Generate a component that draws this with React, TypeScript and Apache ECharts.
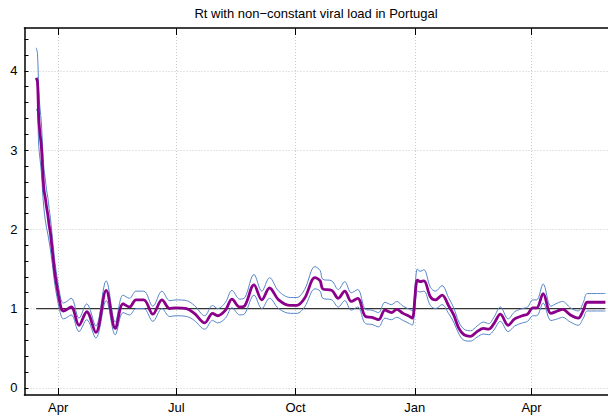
import React, { useEffect, useRef } from "react";
import * as echarts from "echarts";

// Daily-to-weekly samples of the reproduction number estimate
const dates = [
  "2020-03-15", "2020-03-16", "2020-03-17", "2020-03-18", "2020-03-19", "2020-03-20",
  "2020-03-21", "2020-03-22", "2020-03-23", "2020-03-24", "2020-03-25", "2020-03-26",
  "2020-03-27", "2020-03-28", "2020-03-29", "2020-03-30", "2020-03-31", "2020-04-01",
  "2020-04-02", "2020-04-03", "2020-04-04", "2020-04-05", "2020-04-11", "2020-04-17",
  "2020-04-23", "2020-04-30", "2020-05-08", "2020-05-15", "2020-05-21", "2020-05-26",
  "2020-05-31", "2020-06-06", "2020-06-13", "2020-06-20", "2020-06-26", "2020-07-01",
  "2020-07-09", "2020-07-15", "2020-07-23", "2020-07-29", "2020-08-02", "2020-08-08",
  "2020-08-13", "2020-08-19", "2020-08-23", "2020-08-30", "2020-09-05", "2020-09-11",
  "2020-09-18", "2020-09-27", "2020-10-02", "2020-10-08", "2020-10-16", "2020-10-20",
  "2020-10-22", "2020-10-29", "2020-11-03", "2020-11-08", "2020-11-13", "2020-11-18",
  "2020-11-24", "2020-11-29", "2020-12-04", "2020-12-09", "2020-12-14", "2020-12-18",
  "2020-12-23", "2020-12-28", "2020-12-30", "2021-01-02", "2021-01-03", "2021-01-05",
  "2021-01-08", "2021-01-13", "2021-01-17", "2021-01-22", "2021-01-27", "2021-01-31",
  "2021-02-04", "2021-02-08", "2021-02-13", "2021-02-18", "2021-02-23", "2021-02-27",
  "2021-03-03", "2021-03-08", "2021-03-14", "2021-03-19", "2021-03-25", "2021-03-29",
  "2021-04-02", "2021-04-05", "2021-04-10", "2021-04-16", "2021-04-21", "2021-04-25",
  "2021-05-01", "2021-05-07", "2021-05-11", "2021-05-14", "2021-05-21", "2021-05-28",
];

const rt = [
  3.91, 3.86, 3.40, 3.20, 3.05, 2.75,
  2.50, 2.40, 2.28, 2.18, 2.05, 1.95,
  1.80, 1.65, 1.50, 1.38, 1.28, 1.18,
  1.10, 1.02, 0.98, 0.97, 1.02, 0.79,
  0.96, 0.70, 1.23, 0.75, 1.06, 1.02,
  1.11, 1.11, 0.93, 1.11, 1.00, 1.01,
  1.00, 0.94, 0.82, 0.94, 0.91, 0.98,
  1.12, 1.02, 1.04, 1.30, 1.11, 1.26,
  1.11, 1.04, 1.04, 1.13, 1.39, 1.35,
  1.25, 1.23, 1.13, 1.22, 1.09, 1.13,
  0.90, 0.89, 0.86, 0.98, 0.95, 0.99,
  0.94, 0.90, 0.88, 1.30, 1.36, 1.34,
  1.35, 1.15, 1.11, 1.17, 1.04, 0.92,
  0.75, 0.67, 0.65, 0.71, 0.75, 0.74,
  0.81, 0.93, 0.79, 0.87, 0.91, 0.93,
  1.01, 1.01, 1.19, 0.94, 0.97, 0.99,
  0.92, 0.88, 0.98, 1.08, 1.08, 1.08,
];

const rtUpper = [
  4.29, 4.22, 3.75, 3.52, 3.35, 3.02,
  2.76, 2.64, 2.50, 2.40, 2.26, 2.14,
  1.98, 1.82, 1.65, 1.52, 1.41, 1.30,
  1.21, 1.12, 1.08, 1.07, 1.13, 0.88,
  1.06, 0.78, 1.35, 0.83, 1.17, 1.13,
  1.22, 1.22, 1.03, 1.22, 1.10, 1.11,
  1.10, 1.04, 0.91, 1.04, 1.00, 1.08,
  1.23, 1.12, 1.14, 1.43, 1.22, 1.39,
  1.22, 1.14, 1.14, 1.24, 1.53, 1.48,
  1.37, 1.35, 1.24, 1.34, 1.20, 1.24,
  0.99, 0.98, 0.95, 1.08, 1.05, 1.09,
  1.03, 0.99, 0.97, 1.43, 1.50, 1.47,
  1.49, 1.27, 1.22, 1.29, 1.14, 1.01,
  0.83, 0.74, 0.72, 0.78, 0.83, 0.81,
  0.89, 1.02, 0.87, 0.96, 1.00, 1.02,
  1.11, 1.11, 1.31, 1.03, 1.07, 1.09,
  1.01, 0.97, 1.08, 1.19, 1.19, 1.19,
];

const rtLower = [
  3.52, 3.48, 3.05, 2.88, 2.72, 2.46,
  2.26, 2.12, 2.02, 1.94, 1.84, 1.74,
  1.62, 1.49, 1.35, 1.24, 1.15, 1.06,
  0.99, 0.92, 0.88, 0.87, 0.92, 0.71,
  0.86, 0.63, 1.10, 0.67, 0.95, 0.92,
  1.00, 1.00, 0.84, 1.00, 0.90, 0.91,
  0.90, 0.85, 0.74, 0.85, 0.82, 0.88,
  1.01, 0.92, 0.94, 1.17, 1.00, 1.13,
  1.00, 0.94, 0.94, 1.02, 1.25, 1.22,
  1.13, 1.11, 1.02, 1.10, 0.98, 1.02,
  0.81, 0.80, 0.77, 0.88, 0.86, 0.89,
  0.85, 0.81, 0.79, 1.17, 1.22, 1.21,
  1.22, 1.04, 1.00, 1.05, 0.94, 0.83,
  0.68, 0.60, 0.59, 0.64, 0.68, 0.67,
  0.73, 0.84, 0.71, 0.78, 0.82, 0.84,
  0.91, 0.91, 1.07, 0.85, 0.87, 0.89,
  0.83, 0.79, 0.88, 0.97, 0.97, 0.97,
];

const tickDates = ["2020-04-01", "2020-07-01", "2020-10-01", "2021-01-01", "2021-04-01"];
const tickLabels = ["Apr", "Jul", "Oct", "Jan", "Apr"];
const yTicks = [0, 1, 2, 3, 4];

const FONT = "'Liberation Sans', Arial, Helvetica, sans-serif";

const toTime = (s: string) => new Date(s + "T00:00:00").getTime();

export default function App() {
  const ref = useRef<HTMLDivElement>(null);

  useEffect(() => {
    if (!ref.current) return;
    const chart = echarts.init(ref.current, null, { renderer: "svg" });

    const times = dates.map(toTime);
    const tickTimes = tickDates.map(toTime);
    const xMin = toTime("2020-03-06");
    const xMax = toTime("2021-05-30");

    // minor ticks every 0.2 on the value axis
    const minorTicks: number[] = [];
    for (let i = 1; i <= 22; i++) {
      if (i % 5 !== 0) minorTicks.push(Math.round(i * 20) / 100);
    }

    const zip = (vals: number[]) => times.map((t, i) => [t, vals[i]]);

    const thinLine = {
      type: "line" as const,
      smooth: 0.35,
      showSymbol: false,
      symbol: "none",
      lineStyle: { color: "#5585c9", width: 1 },
      z: 3,
    };

    const monthLabel = (v: number) => {
      let best = -1;
      let bestD = Infinity;
      tickTimes.forEach((t, i) => {
        const d = Math.abs(t - v);
        if (d < bestD) {
          bestD = d;
          best = i;
        }
      });
      return bestD < 86400000 ? tickLabels[best] : "";
    };

    chart.setOption({
      animation: false,
      backgroundColor: "#ffffff",
      graphic: [
        {
          type: "text",
          x: 316,
          y: 7,
          style: {
            text: "Rt with non\u2212constant viral load in Portugal",
            font: `13px ${FONT}`,
            fill: "#000",
            textAlign: "center",
            textVerticalAlign: "top",
          },
        },
      ],
      grid: { left: 24.5, right: -1, top: 28, bottom: 21, containLabel: false },
      xAxis: [
        {
          type: "value",
          min: xMin,
          max: xMax,
          position: "bottom",
          axisLine: { show: true, onZero: false, lineStyle: { color: "#000", width: 1.6 } },
          axisTick: {
            show: true,
            inside: true,
            length: 7,
            customValues: tickTimes,
            lineStyle: { color: "#000", width: 1 },
          },
          axisLabel: {
            show: true,
            customValues: tickTimes,
            margin: 6,
            color: "#000",
            fontSize: 13,
            fontFamily: FONT,
            formatter: monthLabel,
          },
          splitLine: {
            show: true,
            lineStyle: { color: "#c8c8c8", width: 1, type: [1, 2] },
          },
        },
        {
          type: "value",
          min: xMin,
          max: xMax,
          position: "top",
          axisLine: { show: true, onZero: false, lineStyle: { color: "#000", width: 1.6 } },
          axisTick: {
            show: true,
            inside: true,
            length: 7,
            customValues: tickTimes,
            lineStyle: { color: "#000", width: 1 },
          },
          axisLabel: { show: false },
          splitLine: { show: false },
        },
      ],
      yAxis: [
        {
          type: "value",
          min: -0.09,
          max: 4.54,
          position: "left",
          axisLine: { show: true, onZero: false, lineStyle: { color: "#000", width: 1.5 } },
          axisTick: {
            show: true,
            inside: true,
            length: 4,
            customValues: yTicks,
            lineStyle: { color: "#000", width: 1 },
          },
          axisLabel: {
            show: true,
            customValues: yTicks,
            margin: 7,
            color: "#000",
            fontSize: 13,
            fontFamily: FONT,
          },
          splitLine: {
            show: true,
            lineStyle: { color: "#c8c8c8", width: 1, type: [1, 2] },
          },
        },
        {
          type: "value",
          min: -0.09,
          max: 4.54,
          position: "left",
          axisLine: { show: false, onZero: false },
          axisTick: {
            show: true,
            inside: true,
            length: 4,
            customValues: minorTicks,
            lineStyle: { color: "#000", width: 1 },
          },
          axisLabel: { show: false },
          splitLine: { show: false },
        },
      ],
      series: [
        {
          type: "line",
          name: "threshold",
          data: [
            [times[0], 1],
            [times[times.length - 1], 1],
          ],
          showSymbol: false,
          symbol: "none",
          lineStyle: { color: "#333", width: 1.3 },
          z: 2,
        },
        { ...thinLine, name: "upper", data: zip(rtUpper) },
        { ...thinLine, name: "lower", data: zip(rtLower) },
        {
          type: "line",
          name: "Rt",
          data: zip(rt),
          smooth: 0.35,
          showSymbol: false,
          symbol: "none",
          lineStyle: { color: "#8b008b", width: 2.8 },
          z: 4,
        },
      ],
    });

    return () => chart.dispose();
  }, []);

  return (
    <div
      ref={ref}
      style={{ position: "fixed", left: 0, top: 0, width: 608, height: 416 }}
    />
  );
}
